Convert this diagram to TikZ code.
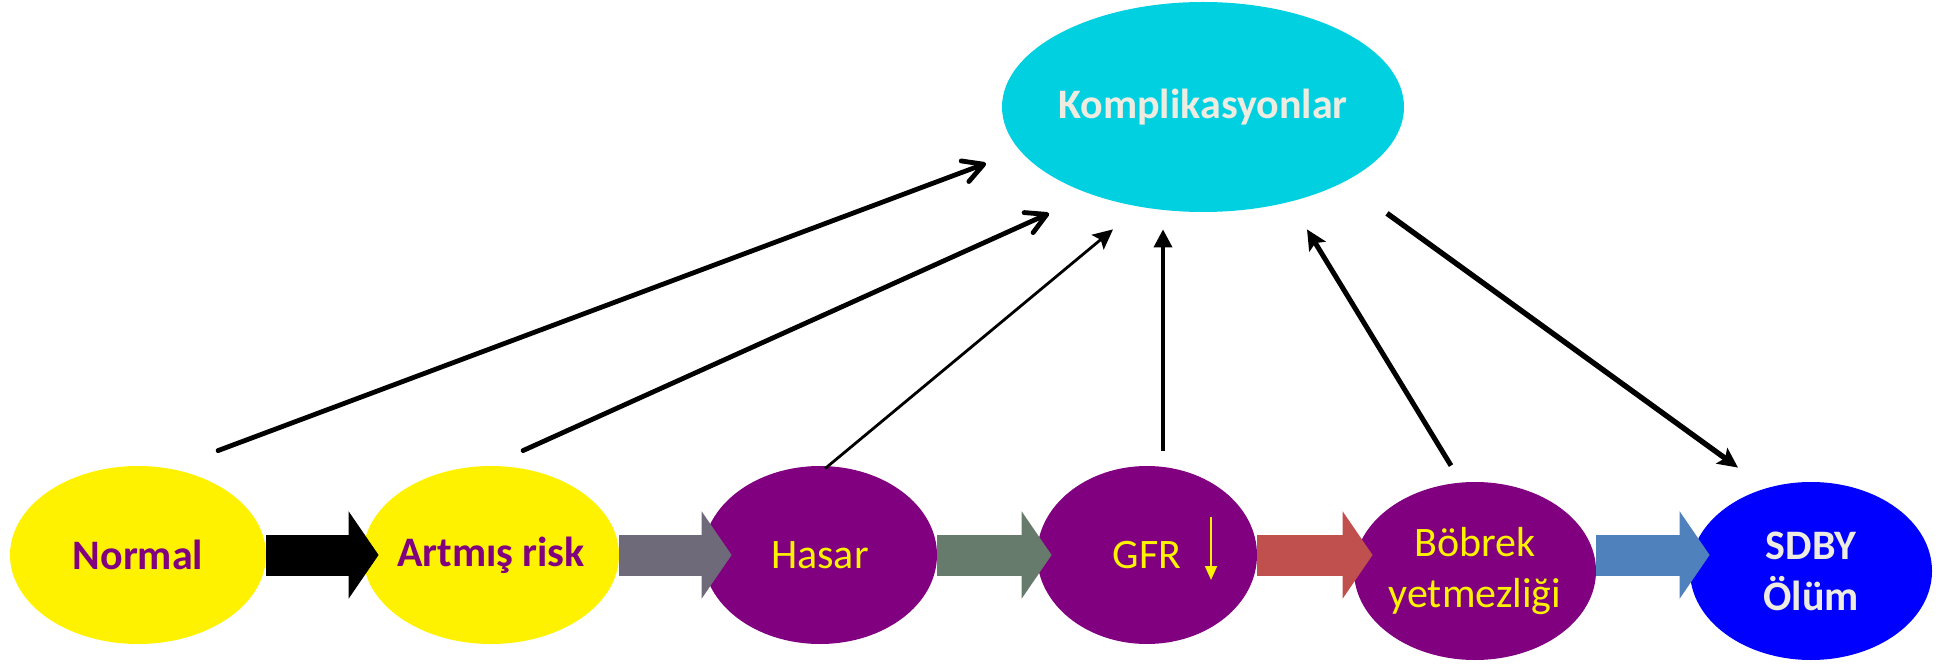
\documentclass[tikz,border=0pt]{standalone}
\usepackage{fontspec}
\setmainfont{Carlito}
\usepackage{tikz}
\usetikzlibrary{calc}
\usetikzlibrary{positioning}
\usetikzlibrary{shapes.geometric}
\usetikzlibrary{arrows.meta}
\definecolor{compCyan}{HTML}{00D0E0}
\definecolor{stagePurple}{HTML}{800080}
\definecolor{textCream}{HTML}{EEECE1}
\definecolor{flowGray}{HTML}{6F6A79}
\definecolor{flowGreen}{HTML}{677B6C}
\definecolor{flowRed}{HTML}{C0504D}
\definecolor{flowBlue}{HTML}{4F81BD}
\tikzstyle{stagenode} = [ellipse, inner sep=-6pt, align=center, font=\fontsize{21}{25.5}\selectfont]
\tikzstyle{colorEarly} = [fill=yellow, text=stagePurple, font=\fontsize{21}{25.5}\selectfont\bfseries]
\tikzstyle{colorDamage} = [fill=stagePurple, text=yellow]
\tikzstyle{colorEnd} = [text=textCream, font=\fontsize{21}{25.5}\selectfont\bfseries]
\tikzstyle{flowarrow} = [line width=20.5pt, -{Triangle[length=15pt, width=43pt]}]
\tikzstyle{openarrow} = [line width=2.4pt, line cap=round, -{Straight Barb[length=10pt, width=11pt, round]}]
\tikzstyle{solidarrow} = [-{Stealth[length=10pt, width=9.5pt, inset=2pt]}]

\begin{document}
\begin{tikzpicture}[x=0.5pt, y=0.5pt]
    \useasboundingbox (0,0) rectangle (1952,664);
    \node[stagenode, colorEnd, fill=compCyan, minimum width=201pt, minimum height=105pt] (komp) at (1203,557) {Komplikasyonlar};
    \node[stagenode, colorEarly, minimum width=128pt, minimum height=89pt] (normal) at (138,109) {Normal};
    \node[stagenode, colorEarly, minimum width=128pt, minimum height=89pt] (artmis) at (491,109) {Artmış risk};
    \node[stagenode, colorDamage, minimum width=117pt, minimum height=89pt] (hasar) at (820,109) {Hasar};
    \node[stagenode, colorDamage, minimum width=110pt, minimum height=89pt] (gfr) at (1147,109) {GFR};
    \node[stagenode, colorDamage, minimum width=121pt, minimum height=89pt] (bobrek) at (1475,93) {Böbrek\\yetmezliği};
    \node[stagenode, colorEnd, fill=blue, minimum width=121pt, minimum height=89pt] (sdby) at (1811,93) {SDBY\\Ölüm};
    % GFR falling
    \coordinate (gfr_top) at ($(gfr.center)+(64,38)$);
    \coordinate (gfr_bot) at ($(gfr.center)+(64,-25)$);
    \draw[yellow, line width=1pt, -{Triangle[length=7pt, width=6pt]}] (gfr_top) -- (gfr_bot);
    % stage flow
    \draw[flowarrow, draw=black] (normal.east) -- ($(artmis.west)+(16,0)$);
    \draw[flowarrow, draw=flowGray] (artmis.east) -- ($(hasar.west)+(29,0)$);
    \draw[flowarrow, draw=flowGreen] (hasar.east) -- ($(gfr.west)+(15,0)$);
    \draw[flowarrow, draw=flowRed] (gfr.east) -- ($(gfr.east -| bobrek.west)+(19,0)$);
    \draw[flowarrow, draw=flowBlue] (bobrek.east |- gfr.east) -- ($(sdby.west |- gfr.east)+(20,0)$);
    % to complications
    \coordinate (normal_out) at ($(normal.north)+(80,15)$);
    \coordinate (artmis_out) at ($(artmis.north)+(32,15)$);
    \coordinate (hasar_out) at ($(hasar.north)+(5,-3)$);
    \coordinate (gfr_out) at ($(gfr.north)+(16,15)$);
    \coordinate (bobrek_out) at ($(bobrek.north)+(-24,16)$);
    \coordinate (sdby_in) at ($(sdby.north)+(-73,14)$);
    \coordinate (komp_in1) at ($(komp.south)+(-217,49)$);
    \coordinate (komp_in2) at ($(komp.south)+(-154,-1)$);
    \coordinate (komp_in3) at ($(komp.south)+(-90,-17)$);
    \coordinate (komp_in4) at ($(komp.south)+(-40,-17)$);
    \coordinate (komp_in5) at ($(komp.south)+(104,-17)$);
    \coordinate (komp_out) at ($(komp.south)+(184,-1)$);
    \draw[openarrow] (normal_out) -- (komp_in1);
    \draw[openarrow] (artmis_out) -- (komp_in2);
    \draw[solidarrow, line width=1.4pt] (hasar_out) -- (komp_in3);
    \draw[line width=1.8pt, -{Triangle[length=9pt, width=9pt]}] (gfr_out) -- (komp_in4);
    \draw[solidarrow, line width=2.5pt] (bobrek_out) -- (komp_in5);
    \draw[solidarrow, line width=2.7pt] (komp_out) -- (sdby_in);
\end{tikzpicture}
\end{document}
